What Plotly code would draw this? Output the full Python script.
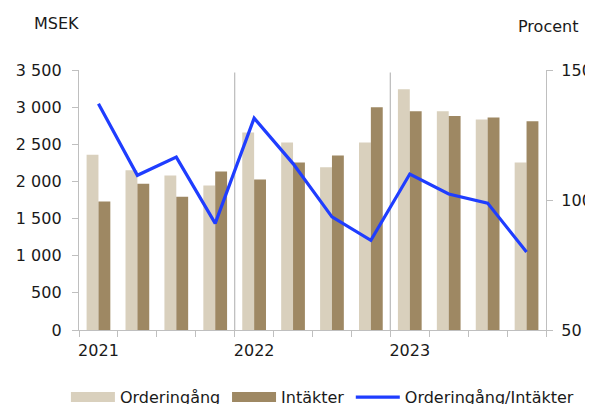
import plotly.graph_objects as go

quarters = ["Q1 2021", "Q2 2021", "Q3 2021", "Q4 2021",
            "Q1 2022", "Q2 2022", "Q3 2022", "Q4 2022",
            "Q1 2023", "Q2 2023", "Q3 2023", "Q4 2023"]
orderingang = [2360, 2150, 2080, 1945, 2660, 2525, 2190, 2525, 3240, 2945, 2835, 2255]
intakter = [1730, 1970, 1795, 2135, 2025, 2255, 2350, 3000, 2945, 2880, 2860, 2810]
ratio = [137, 109.5, 116.5, 91, 131.5, 114, 93.5, 84.5, 110, 102.3, 98.8, 80]
year_labels = ["2021", "2022", "2023"]
year_first_idx = [0, 4, 8]
left_ticks = [0, 500, 1000, 1500, 2000, 2500, 3000, 3500]
left_ticktext = ["0", "500", "1 000", "1 500", "2 000", "2 500", "3 000", "3 500"]
right_ticks = [50, 100, 150]

x = list(range(len(quarters)))
FONT = "DejaVu Sans"
FS = 16
TXT = "#1a1a1a"
AX = "#bfbfbf"
C_ORD = "#d9d0bd"
C_INT = "#9e8863"
C_RAT = "#1f3dff"

fig = go.Figure()
fig.add_trace(go.Bar(x=x, y=orderingang, name="Orderingång", showlegend=False,
                     marker=dict(color=C_ORD, line=dict(width=0)), hovertext=quarters))
fig.add_trace(go.Bar(x=x, y=intakter, name="Intäkter", showlegend=False,
                     marker=dict(color=C_INT, line=dict(width=0)), hovertext=quarters))
fig.add_trace(go.Scatter(x=x, y=ratio, name="Orderingång/Intäkter", yaxis="y2",
                         mode="lines", line=dict(color=C_RAT, width=3.2),
                         hovertext=quarters, legend="legend3"))
# legend-only entries giving the bars wide flat swatches
fig.add_trace(go.Scatter(x=[None], y=[None], name="Orderingång", mode="lines",
                         line=dict(color=C_ORD, width=10), legend="legend"))
fig.add_trace(go.Scatter(x=[None], y=[None], name="Intäkter", mode="lines",
                         line=dict(color=C_INT, width=10), legend="legend2"))
# invisible trace carrying the year labels on an overlaying x axis
fig.add_trace(go.Scatter(x=year_first_idx, y=[None] * 3, xaxis="x2", showlegend=False,
                         hoverinfo="skip"))

# year separators
for b in [3.5, 7.5]:
    fig.add_shape(type="line", xref="x", yref="paper", x0=b, x1=b, y0=0, y1=0.99,
                  line=dict(color=AX, width=1.3), layer="below")

n = len(quarters)
leg = dict(orientation="h", y=-0.193, yanchor="top", xanchor="left",
           font=dict(family=FONT, size=FS, color=TXT), itemwidth=44,
           bgcolor="rgba(0,0,0,0)")
# page body has an 8px default margin, so the figure is 8px smaller and margins shifted
fig.update_layout(
    width=585, height=396,
    margin=dict(l=71, r=47, t=62, b=74, autoexpand=False),
    paper_bgcolor="white", plot_bgcolor="white",
    font=dict(family=FONT, size=FS, color=TXT),
    barmode="group", bargap=0.39, bargroupgap=0,
    showlegend=True,
    legend=dict(leg, x=-0.028),
    legend2=dict(leg, x=0.317),
    legend3=dict(leg, x=0.582),
    xaxis=dict(range=[-0.5, n - 0.5], tickvals=[i - 0.5 for i in range(n + 1)],
               ticktext=[""] * (n + 1), ticks="outside", ticklen=6, tickcolor=AX,
               showline=True, linecolor=AX, linewidth=1.3, showgrid=False,
               zeroline=False, fixedrange=True),
    xaxis2=dict(overlaying="x", range=[-0.5, n - 0.5], tickvals=year_first_idx,
                ticktext=year_labels, ticks="", showline=False, showgrid=False,
                zeroline=False, side="bottom", ticklabelstandoff=9,
                tickfont=dict(size=FS, color=TXT)),
    yaxis=dict(range=[0, 3500], tickvals=left_ticks, ticktext=left_ticktext,
               ticks="outside", ticklen=6, tickcolor=AX, showline=True,
               linecolor=AX, linewidth=1.3, showgrid=False, zeroline=False,
               ticklabelstandoff=7),
    yaxis2=dict(range=[50, 150], tickvals=right_ticks, overlaying="y", side="right",
                ticks="outside", ticklen=6, tickcolor=AX, showline=True,
                linecolor=AX, linewidth=1.3, showgrid=False, zeroline=False,
                ticklabelstandoff=5),
    annotations=[
        dict(text="MSEK", xref="paper", yref="paper", x=-0.1, y=1.135, xanchor="left",
             yanchor="bottom", showarrow=False, font=dict(size=FS, color=TXT)),
        dict(text="Procent", xref="paper", yref="paper", x=0.936, y=1.125, xanchor="left",
             yanchor="bottom", showarrow=False, font=dict(size=FS, color=TXT)),
    ],
)

fig.write_html("out.html")
